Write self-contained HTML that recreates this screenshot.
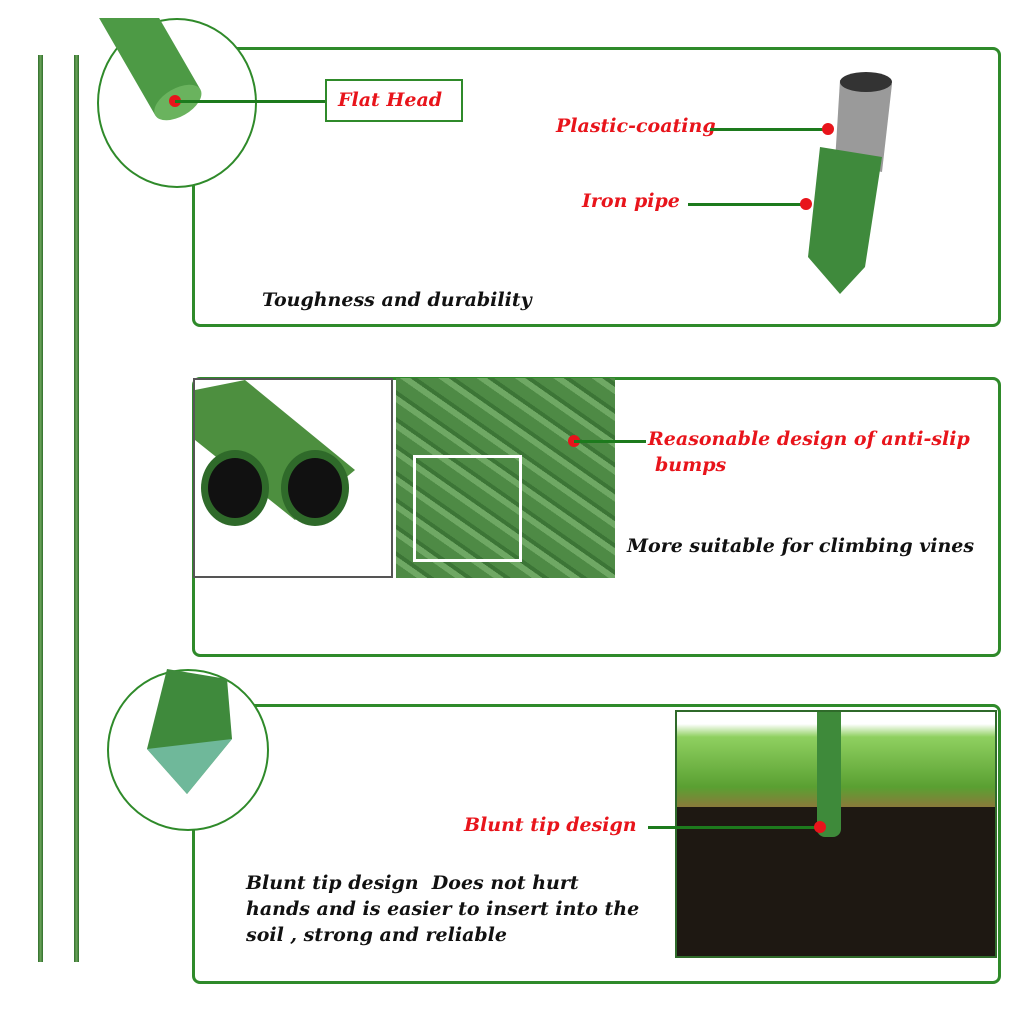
<!DOCTYPE html>
<html><head><meta charset="utf-8"><style>
body{margin:0;width:1024px;height:1024px;background:#fff;position:relative;overflow:hidden;font-family:"DejaVu Serif",serif}
div,svg{position:absolute}
.panel{border:3px solid #2f8a2a;border-radius:8px;background:#fff}
.t{position:absolute;font-weight:bold;font-style:italic;font-size:19px;white-space:nowrap}
.r{color:#e8141b}
.k{color:#111}
.line{background:#1d7a1d;height:3px}
.dot{width:12px;height:12px;border-radius:50%;background:#e8141b}
.circ{border:2px solid #2f8a2a;border-radius:50%;background:#fff;overflow:hidden}
</style></head><body>
<div style="left:38px;top:55px;width:5px;height:907px;background:linear-gradient(90deg,#2f6e2a,#6ba35a,#2f6e2a)"></div>
<div style="left:74px;top:55px;width:5px;height:907px;background:linear-gradient(90deg,#2f6e2a,#6ba35a,#2f6e2a)"></div>

<div class="panel" style="left:192px;top:47px;width:803px;height:274px"></div>
<div class="panel" style="left:192px;top:377px;width:803px;height:274px"></div>
<div class="panel" style="left:192px;top:704px;width:803px;height:274px"></div>

<div class="circ" style="left:97px;top:18px;width:156px;height:166px"></div>
<svg style="left:97px;top:18px" width="160" height="170"><g transform="rotate(-30 80 85)"><rect x="55" y="-40" width="52" height="125" fill="#4d9a45"/><ellipse cx="81" cy="85" rx="26" ry="14" fill="#6ab35e"/></g></svg>
<div class="dot" style="left:169px;top:95px"></div>
<div class="line" style="left:175px;top:100px;width:152px"></div>
<div style="left:325px;top:79px;width:134px;height:39px;border:2px solid #2f8a2a"></div>
<div class="t r" style="left:338px;top:89px">Flat Head</div>

<svg style="left:790px;top:62px" width="110" height="240">
<polygon points="50,18 102,22 92,110 45,100" fill="#9a9a9a"/>
<ellipse cx="76" cy="20" rx="26" ry="10" fill="#333"/>
<polygon points="30,85 92,95 75,205 50,232 18,195" fill="#3f8a3c"/>
</svg>
<div class="t r" style="left:556px;top:115px">Plastic-coating</div>
<div class="line" style="left:710px;top:128px;width:118px"></div>
<div class="dot" style="left:822px;top:123px"></div>
<div class="t r" style="left:582px;top:190px">Iron pipe</div>
<div class="line" style="left:688px;top:203px;width:118px"></div>
<div class="dot" style="left:800px;top:198px"></div>
<div class="t k" style="left:262px;top:289px">Toughness and durability</div>

<div style="left:193px;top:378px;width:196px;height:196px;border:2px solid #555;background:#fff"></div>
<svg style="left:195px;top:380px" width="196" height="196">
<polygon points="0,10 50,0 160,90 100,140 0,60" fill="#4d8f3f"/>
<ellipse cx="40" cy="108" rx="34" ry="38" fill="#2f6a2a"/><ellipse cx="40" cy="108" rx="27" ry="30" fill="#111"/>
<ellipse cx="120" cy="108" rx="34" ry="38" fill="#2f6a2a"/><ellipse cx="120" cy="108" rx="27" ry="30" fill="#111"/>
</svg>
<div style="left:396px;top:378px;width:219px;height:200px;background:repeating-linear-gradient(35deg,#4e8a45 0 12px,#6fa864 12px 18px,#3c7536 18px 22px)"></div>
<div style="left:413px;top:455px;width:103px;height:101px;border:3px solid #fff"></div>
<div class="dot" style="left:568px;top:435px"></div>
<div class="line" style="left:574px;top:440px;width:72px"></div>
<div class="t r" style="left:648px;top:428px">Reasonable design of anti-slip</div>
<div class="t r" style="left:655px;top:454px">bumps</div>
<div class="t k" style="left:627px;top:535px">More suitable for climbing vines</div>

<div class="circ" style="left:107px;top:669px;width:158px;height:158px"></div>
<svg style="left:107px;top:669px" width="160" height="160">
<polygon points="60,0 120,10 125,70 80,125 40,80" fill="#3f8a3c"/>
<polygon points="40,80 125,70 80,125" fill="#6fb89a"/>
</svg>

<div style="left:675px;top:710px;width:318px;height:244px;border:2px solid #2f6a2a;background:#1e1812;overflow:hidden">
<div style="left:0;top:0;width:318px;height:95px;background:linear-gradient(#fff 0 12px,#8fd060 25px,#5aa032 75px,#8a7a3a 95px)"></div>
<div style="left:140px;top:0;width:24px;height:125px;background:#3e8a3a;border-radius:0 0 8px 8px"></div>
</div>
<div class="t r" style="left:464px;top:814px">Blunt tip design</div>
<div class="line" style="left:648px;top:826px;width:170px"></div>
<div class="dot" style="left:814px;top:821px"></div>

<div class="t k" style="left:246px;top:872px">Blunt tip design&nbsp; Does not hurt</div>
<div class="t k" style="left:246px;top:898px">hands and is easier to insert into the</div>
<div class="t k" style="left:246px;top:924px">soil , strong and reliable</div>
</body></html>
